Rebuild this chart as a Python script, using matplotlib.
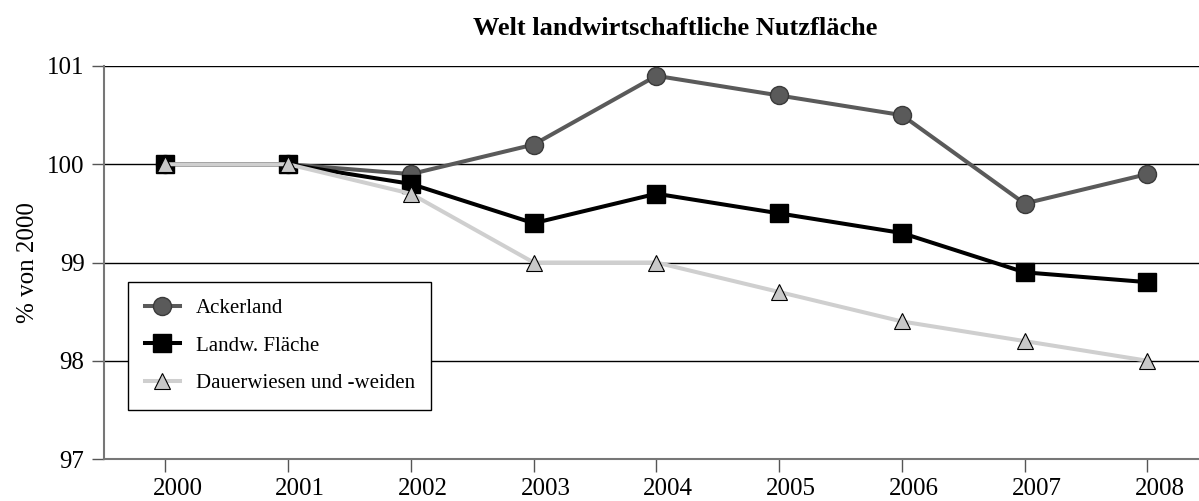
import matplotlib.pyplot as plt
from matplotlib.transforms import ScaledTranslation

years = [2000, 2001, 2002, 2003, 2004, 2005, 2006, 2007, 2008]
ackerland = [100.0, 100.0, 99.9, 100.2, 100.9, 100.7, 100.5, 99.6, 99.9]
landw = [100.0, 100.0, 99.8, 99.4, 99.7, 99.5, 99.3, 98.9, 98.8]
dauer = [100.0, 100.0, 99.7, 99.0, 99.0, 98.7, 98.4, 98.2, 98.0]
yticks = [97, 98, 99, 100, 101]

plt.rcParams["font.family"] = ["Liberation Serif", "DejaVu Serif"]

fig = plt.figure(figsize=(11.99, 5.01), dpi=100)
ax = fig.add_axes([104 / 1199, 42 / 501, 1104.75 / 1199, 393 / 501])

ax.plot(years, ackerland, color="#5a5a5a", lw=2.9, marker="o", ms=13,
        mfc="#5a5a5a", mec="#3a3a3a", mew=1, label="Ackerland", zorder=3)
ax.plot(years, landw, color="black", lw=2.9, marker="s", ms=13,
        mfc="black", mec="black", label="Landw. Fläche", zorder=4)
ax.plot(years, dauer, color="#cfcfcf", lw=2.9, marker="^", ms=11.5,
        mfc="#c8c8c8", mec="black", mew=0.8, label="Dauerwiesen und -weiden", zorder=5)

ax.set_xlim(1999.5, 2008.5)
ax.set_ylim(97, 101)
ax.set_xticks(years)
ax.set_yticks(yticks)
ax.tick_params(labelsize=18, length=9, color="#555555", width=1, pad=5)
ax.yaxis.grid(True, color="black", lw=1)
ax.set_axisbelow(True)

# x labels sit a little right of their ticks in the original
shift = ScaledTranslation(12 / 100, 0, fig.dpi_scale_trans)
for lab in ax.get_xticklabels():
    lab.set_transform(lab.get_transform() + shift)

for side in ["top", "right"]:
    ax.spines[side].set_visible(False)
for side in ["left", "bottom"]:
    ax.spines[side].set_color("#777777")
    ax.spines[side].set_linewidth(1.5)

ax.set_ylabel("% von 2000", fontsize=18, labelpad=6)
fig.text(0.563, 0.944, "Welt landwirtschaftliche Nutzfläche", ha="center",
         va="center", fontsize=19, fontweight="bold")

leg = ax.legend(loc="upper left", bbox_to_anchor=(0.0217, 0.45), borderaxespad=0,
                fontsize=15, frameon=True, fancybox=False, edgecolor="black",
                framealpha=1, handlelength=1.7, labelspacing=0.85,
                borderpad=0.8, handletextpad=0.75)
leg.get_frame().set_linewidth(1)

plt.savefig("out.png", dpi=100)
plt.close()
